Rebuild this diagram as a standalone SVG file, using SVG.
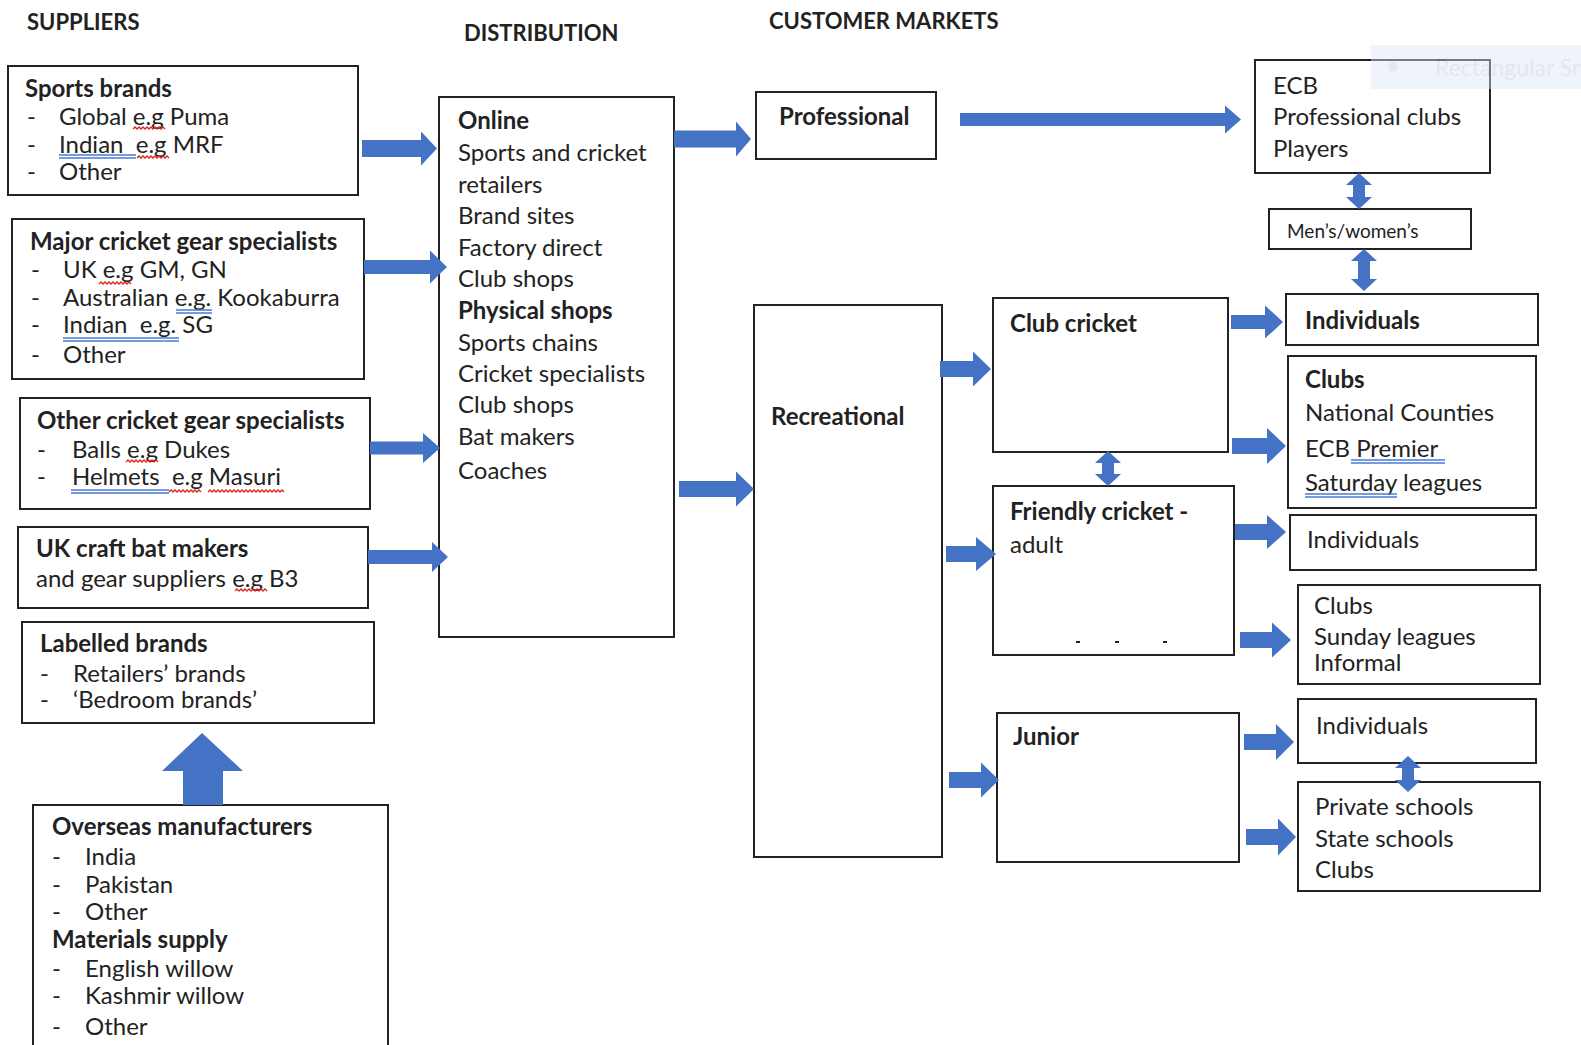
<svg xmlns="http://www.w3.org/2000/svg" width="1581" height="1045" viewBox="0 0 1581 1045">
<style>
  .box{fill:#fff;stroke:#222;stroke-width:2}
  text{font-family:Lato,"Open Sans","Liberation Sans",sans-serif;font-size:24px;fill:#222}
  .b{font-weight:bold}
  .h{font-weight:bold;font-size:22px}
  .sm{font-size:19px}
  .arr{fill:#4472C4}
  .ghost{fill:#c3cad5;font-size:23px}
  .wavy{fill:none;stroke:#e0231c;stroke-width:1.3}
  .dbl{fill:none;stroke:#4a7bd6;stroke-width:1.3}
</style>
<rect width="1581" height="1045" fill="#fff"/>

<g id="headers">
  <text class="h" x="27" y="30">SUPPLIERS</text>
  <text class="h" x="464" y="41">DISTRIBUTION</text>
  <text class="h" x="769" y="29">CUSTOMER MARKETS</text>
</g>

<g id="sports-brands">
  <rect class="box" x="8" y="66" width="350" height="129"/>
  <text class="b" x="25" y="97">Sports brands</text>
  <text x="27" y="125">-</text><text x="59" y="125">Global e.g Puma</text>
  <text x="27" y="153">-</text><text x="59" y="153" xml:space="preserve">Indian  e.g MRF</text>
  <text x="27" y="180">-</text><text x="59" y="180">Other</text>
</g>

<g id="major-specialists">
  <rect class="box" x="12" y="219" width="352" height="160"/>
  <text class="b" x="30" y="250">Major cricket gear specialists</text>
  <text x="31" y="278">-</text><text x="63" y="278">UK e.g GM, GN</text>
  <text x="31" y="306">-</text><text x="63" y="306">Australian e.g. Kookaburra</text>
  <text x="31" y="333">-</text><text x="63" y="333" xml:space="preserve">Indian  e.g. SG</text>
  <text x="31" y="363">-</text><text x="63" y="363">Other</text>
</g>

<g id="other-specialists">
  <rect class="box" x="20" y="398" width="350" height="111"/>
  <text class="b" x="37" y="429">Other cricket gear specialists</text>
  <text x="37" y="458">-</text><text x="72" y="458">Balls e.g Dukes</text>
  <text x="37" y="485">-</text><text x="72" y="485" xml:space="preserve">Helmets  e.g Masuri</text>
</g>

<g id="uk-craft">
  <rect class="box" x="18" y="527" width="350" height="81"/>
  <text class="b" x="36" y="557">UK craft bat makers</text>
  <text x="36" y="587">and gear suppliers e.g B3</text>
</g>

<g id="labelled-brands">
  <rect class="box" x="22" y="622" width="352" height="101"/>
  <text class="b" x="40" y="652">Labelled brands</text>
  <text x="40" y="682">-</text><text x="73" y="682">Retailers’ brands</text>
  <text x="40" y="708">-</text><text x="73" y="708">‘Bedroom brands’</text>
</g>

<g id="overseas">
  <rect class="box" x="33" y="805" width="355" height="260"/>
  <text class="b" x="52" y="835">Overseas manufacturers</text>
  <text x="52" y="865">-</text><text x="85" y="865">India</text>
  <text x="52" y="893">-</text><text x="85" y="893">Pakistan</text>
  <text x="52" y="920">-</text><text x="85" y="920">Other</text>
  <text class="b" x="52" y="948">Materials supply</text>
  <text x="52" y="977">-</text><text x="85" y="977">English willow</text>
  <text x="52" y="1004">-</text><text x="85" y="1004">Kashmir willow</text>
  <text x="52" y="1035">-</text><text x="85" y="1035">Other</text>
</g>

<g id="distribution">
  <rect class="box" x="439" y="97" width="235" height="540"/>
  <text class="b" x="458" y="129">Online</text>
  <text x="458" y="161">Sports and cricket</text>
  <text x="458" y="193">retailers</text>
  <text x="458" y="224">Brand sites</text>
  <text x="458" y="256">Factory direct</text>
  <text x="458" y="287">Club shops</text>
  <text class="b" x="458" y="319">Physical shops</text>
  <text x="458" y="351">Sports chains</text>
  <text x="458" y="382">Cricket specialists</text>
  <text x="458" y="413">Club shops</text>
  <text x="458" y="445">Bat makers</text>
  <text x="458" y="479">Coaches</text>
</g>

<g id="professional">
  <rect class="box" x="756" y="92" width="180" height="67"/>
  <text class="b" x="779" y="125">Professional</text>
</g>

<g id="ecb">
  <rect class="box" x="1255" y="60" width="235" height="113"/>
  <text x="1273" y="94">ECB</text>
  <text x="1273" y="125">Professional clubs</text>
  <text x="1273" y="157">Players</text>
</g>

<g id="mens-womens">
  <rect class="box" x="1269" y="209" width="202" height="40"/>
  <text class="sm" x="1287" y="238">Men’s/women’s</text>
</g>

<g id="recreational">
  <rect class="box" x="754" y="305" width="188" height="552"/>
  <text class="b" x="771" y="425">Recreational</text>
</g>

<g id="club-cricket">
  <rect class="box" x="993" y="298" width="235" height="154"/>
  <text class="b" x="1010" y="332">Club cricket</text>
</g>

<g id="friendly-cricket">
  <rect class="box" x="993" y="486" width="241" height="169"/>
  <text class="b" x="1010" y="520">Friendly cricket -</text>
  <text x="1010" y="553">adult</text>
  <rect x="1076" y="641" width="4" height="2" fill="#222"/>
  <rect x="1115" y="641" width="4" height="2" fill="#222"/>
  <rect x="1163" y="641" width="4" height="2" fill="#222"/>
</g>

<g id="junior">
  <rect class="box" x="997" y="713" width="242" height="149"/>
  <text class="b" x="1013" y="745">Junior</text>
</g>

<g id="individuals-club">
  <rect class="box" x="1286" y="294" width="252" height="51"/>
  <text class="b" x="1305" y="329">Individuals</text>
</g>

<g id="clubs-club">
  <rect class="box" x="1288" y="356" width="248" height="152"/>
  <text class="b" x="1305" y="388">Clubs</text>
  <text x="1305" y="421">National Counties</text>
  <text x="1305" y="457">ECB Premier</text>
  <text x="1305" y="491">Saturday leagues</text>
</g>

<g id="individuals-friendly">
  <rect class="box" x="1290" y="515" width="246" height="55"/>
  <text x="1307" y="548">Individuals</text>
</g>

<g id="clubs-friendly">
  <rect class="box" x="1298" y="585" width="242" height="99"/>
  <text x="1314" y="614">Clubs</text>
  <text x="1314" y="645">Sunday leagues</text>
  <text x="1314" y="671">Informal</text>
</g>

<g id="individuals-junior">
  <rect class="box" x="1298" y="699" width="238" height="64"/>
  <text x="1316" y="734">Individuals</text>
</g>

<g id="schools">
  <rect class="box" x="1298" y="782" width="242" height="109"/>
  <text x="1315" y="815">Private schools</text>
  <text x="1315" y="847">State schools</text>
  <text x="1315" y="878">Clubs</text>
</g>

<g id="proofing-marks">
  <path class="wavy" d="M133,129 l2,-2 l2,2 l2,-2 l2,2 l2,-2 l2,2 l2,-2 l2,2 l2,-2 l2,2 l2,-2 l2,2 l2,-2 l2,2 l2,-2 l2,2"/>
  <path class="dbl" d="M59,155 H136 M59,158 H136"/>
  <path class="wavy" d="M137,158 l2,-2 l2,2 l2,-2 l2,2 l2,-2 l2,2 l2,-2 l2,2 l2,-2 l2,2 l2,-2 l2,2 l2,-2 l2,2 l2,-2 l2,2"/>
  <path class="wavy" d="M99,284 l2,-2 l2,2 l2,-2 l2,2 l2,-2 l2,2 l2,-2 l2,2 l2,-2 l2,2 l2,-2 l2,2 l2,-2 l2,2 l2,-2 l2,2"/>
  <path class="dbl" d="M176,310 H212 M176,313 H212"/>
  <path class="dbl" d="M63,338 H179 M63,341 H179"/>
  <path class="wavy" d="M126,462 l2,-2 l2,2 l2,-2 l2,2 l2,-2 l2,2 l2,-2 l2,2 l2,-2 l2,2 l2,-2 l2,2 l2,-2 l2,2 l2,-2 l2,2"/>
  <path class="dbl" d="M71,490 H169 M71,493 H169"/>
  <path class="wavy" d="M169,492 l2,-2 l2,2 l2,-2 l2,2 l2,-2 l2,2 l2,-2 l2,2 l2,-2 l2,2 l2,-2 l2,2 l2,-2 l2,2 l2,-2 l2,2"/>
  <path class="wavy" d="M208,492 l2,-2 l2,2 l2,-2 l2,2 l2,-2 l2,2 l2,-2 l2,2 l2,-2 l2,2 l2,-2 l2,2 l2,-2 l2,2 l2,-2 l2,2 l2,-2 l2,2 l2,-2 l2,2 l2,-2 l2,2 l2,-2 l2,2 l2,-2 l2,2 l2,-2 l2,2 l2,-2 l2,2 l2,-2 l2,2 l2,-2 l2,2 l2,-2 l2,2 l2,-2 l2,2"/>
  <path class="wavy" d="M235,591 l2,-2 l2,2 l2,-2 l2,2 l2,-2 l2,2 l2,-2 l2,2 l2,-2 l2,2 l2,-2 l2,2 l2,-2 l2,2 l2,-2 l2,2"/>
  <path class="dbl" d="M1351,460 H1445 M1351,463 H1445"/>
  <path class="dbl" d="M1305,494 H1397 M1305,497 H1397"/>
</g>

<g id="connectors">
  <path class="arr" d="M362,140 H421 V131.5 L437,148.5 L421,165.5 V157 H362 Z"/>
  <path class="arr" d="M364,260 H430 V250.5 L447,267 L430,283.5 V274 H364 Z"/>
  <path class="arr" d="M370,441.5 H423 V433 L440,448 L423,463 V454.5 H370 Z"/>
  <path class="arr" d="M368,550 H432 V542 L448,557 L432,572 V564 H368 Z"/>
  <path class="arr" d="M183,805 V771 H162 L202,733 L243,771 H223 V805 Z"/>
  <path class="arr" d="M674,130.5 H736 V121.5 L751,139 L736,156.5 V147.5 H674 Z"/>
  <path class="arr" d="M960,113 H1225 V105.5 L1241,119.5 L1225,133.5 V126 H960 Z"/>
  <path class="arr" d="M679,481 H736 V471.5 L754,489 L736,506.5 V497 H679 Z"/>
  <path class="arr" d="M940,361 H973 V351.5 L991,369 L973,386.5 V377 H940 Z"/>
  <path class="arr" d="M946,546 H976 V537 L996,554 L976,571 V562 H946 Z"/>
  <path class="arr" d="M949,772 H981 V762.5 L999,780 L981,797.5 V788 H949 Z"/>
  <path class="arr" d="M1231,315 H1265 V305.5 L1283,322 L1265,338.5 V329 H1231 Z"/>
  <path class="arr" d="M1232,438 H1267 V428 L1286,446 L1267,464 V454 H1232 Z"/>
  <path class="arr" d="M1235,524 H1267 V515 L1286,532 L1267,549 V540 H1235 Z"/>
  <path class="arr" d="M1240,632 H1272 V622.5 L1291,640 L1272,657.5 V648 H1240 Z"/>
  <path class="arr" d="M1244,734 H1276 V724 L1294,742 L1276,760 V750 H1244 Z"/>
  <path class="arr" d="M1246,829 H1278 V818.5 L1296,837 L1278,855.5 V845 H1246 Z"/>
  <path class="arr" d="M1359,173 L1372,185 H1365 V197 H1372 L1359,209 L1346,197 H1353 V185 H1346 Z"/>
  <path class="arr" d="M1364,249 L1377,261 H1370 V279 H1377 L1364,291 L1351,279 H1358 V261 H1351 Z"/>
  <path class="arr" d="M1108,451 L1121,463 H1114 V474 H1121 L1108,486 L1095,474 H1102 V463 H1095 Z"/>
  <path class="arr" d="M1408,756 L1421,768 H1414 V780 H1421 L1408,792 L1395,780 H1402 V768 H1395 Z"/>
</g>

<g id="ghost" opacity="0.45">
  <rect x="1371" y="45" width="210" height="44" fill="#dde7f6"/>
  <circle cx="1393" cy="67" r="5" fill="#c9ced6"/>
  <text class="ghost" x="1435" y="76">Rectangular Snip</text>
</g>
</svg>
